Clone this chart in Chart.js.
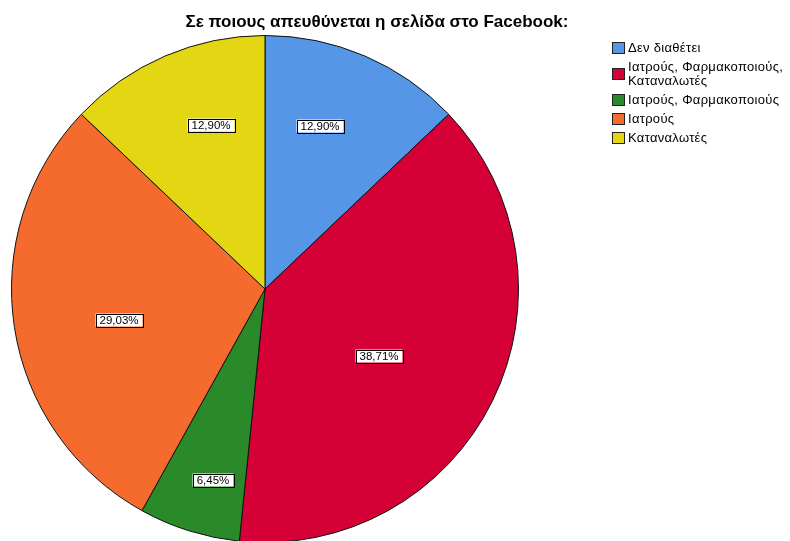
<!DOCTYPE html>
<html>
<head>
<meta charset="utf-8">
<script src="https://cdn.jsdelivr.net/npm/chart.js@4.4.0/dist/chart.umd.min.js"></script>
<style>
  html, body { margin: 0; padding: 0; background: #fff; overflow: hidden; }
  #wrap { position: relative; width: 790px; height: 541px; overflow: hidden; }
  #pie { position: absolute; left: 0; top: 0; }
  #title {
    position: absolute; left: 0; top: 12px; width: 754px; text-align: center;
    font: bold 17px "Liberation Sans", Arial, sans-serif; color: #000;
  }
  #legend { position: absolute; left: 611px; top: 41px; font: 13px "Liberation Sans", Arial, sans-serif; letter-spacing: 0.3px; color: #000; }
  .item { position: relative; padding-left: 17px; margin-bottom: 5px; line-height: 14px; width: 175px; }
  .box { position: absolute; left: 1px; top: 50%; width: 11px; height: 10px; margin-top: -6px; border: 1px solid #222; }
</style>
</head>
<body>
<div id="wrap">
  <canvas id="pie" width="790" height="543"></canvas>
  <div id="title"></div>
  <div id="legend"></div>
</div>
<script>
const TITLE = "Σε ποιους απευθύνεται η σελίδα στο Facebook:"
const categories = ["Δεν διαθέτει", "Ιατρούς, Φαρμακοποιούς, Καταναλωτές", "Ιατρούς, Φαρμακοποιούς", "Ιατρούς", "Καταναλωτές"]
const percents = [12.90, 38.71, 6.45, 29.03, 12.90]
const colors = ["#5596e6", "#d50035", "#2a8a2a", "#f56b2d", "#e3d612"]

document.getElementById("title").textContent = TITLE

// legend on the right, built from the same arrays
const legend = document.getElementById("legend")
categories.forEach((name, i) => {
  const item = document.createElement("div")
  item.className = "item"
  const box = document.createElement("span")
  box.className = "box"
  box.style.background = colors[i]
  item.appendChild(box)
  item.appendChild(document.createTextNode(name))
  legend.appendChild(item)
})

// boxed percentage label inside every slice
// (angle = fraction of the slice sweep, radius = fraction of the pie radius)
const sliceLabels = {
  id: "sliceLabels",
  afterDatasetsDraw(chart, args, opts) {
    const ctx = chart.ctx
    const arcs = chart.getDatasetMeta(0).data
    ctx.save()
    ctx.font = "11.5px 'Liberation Sans', Arial, sans-serif"
    ctx.textAlign = "center"
    ctx.textBaseline = "middle"
    arcs.forEach((arc, i) => {
      const p = arc.getProps(["x", "y", "startAngle", "endAngle", "outerRadius"], true)
      const a = p.startAngle + (p.endAngle - p.startAngle) * opts.angle[i]
      const r = p.outerRadius * opts.radius[i]
      const x = Math.round(p.x + Math.cos(a) * r)
      const y = Math.round(p.y + Math.sin(a) * r)
      const text = percents[i].toFixed(2).replace(".", ",") + "%"
      const w = Math.round(ctx.measureText(text).width) + 8
      const h = 13
      ctx.fillStyle = "#fff"
      ctx.fillRect(x - w / 2, y - h / 2, w, h)
      ctx.strokeStyle = "#000"
      ctx.lineWidth = 1
      ctx.strokeRect(Math.round(x - w / 2) + 0.5, Math.round(y - h / 2) + 0.5, w, h)
      ctx.fillStyle = "#000"
      ctx.fillText(text, x, y + 1)
    })
    ctx.restore()
  }
}

const CHART = document.getElementById("pie")

let pieChart = new Chart(CHART, {
  type: "pie",
  data: {
    labels: categories,
    datasets: [
      {
        data: percents,
        backgroundColor: colors,
        borderColor: "#111",
        borderWidth: 1
      }
    ]
  },
  options: {
    responsive: false,
    animation: false,
    layout: {
      padding: { left: 11, right: 271, top: 35, bottom: 0 }
    },
    plugins: {
      legend: { display: false },
      title: { display: false },
      tooltip: { enabled: false },
      sliceLabels: {
        angle: [0.40, 0.53, 0.405, 0.47, 0.61],
        radius: [0.68, 0.52, 0.78, 0.59, 0.68]
      }
    }
  },
  plugins: [sliceLabels]
})
</script>
</body>
</html>
